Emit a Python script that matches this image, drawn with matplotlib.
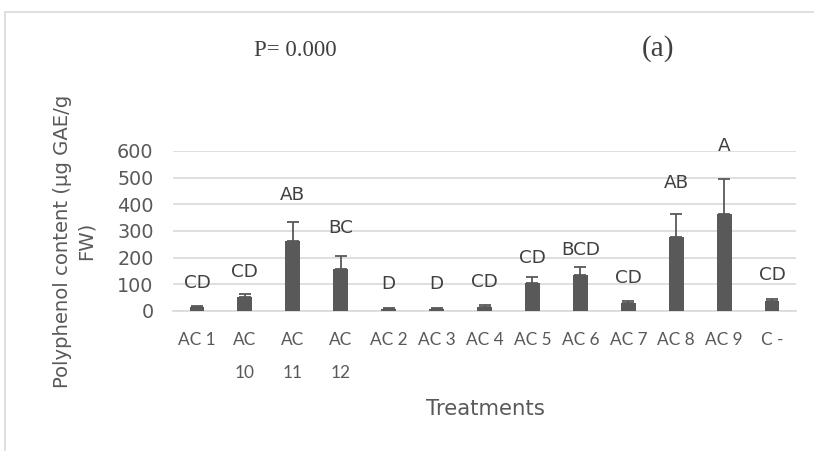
import matplotlib.pyplot as plt
from matplotlib.patches import Rectangle
import numpy as np

# treatments, means, upper error and significance groups
treatments = ["AC 1", "AC\n10", "AC\n11", "AC\n12", "AC 2", "AC 3", "AC 4",
              "AC 5", "AC 6", "AC 7", "AC 8", "AC 9", "C -"]
means = [16, 52, 262, 157, 8, 8, 15, 104, 135, 29, 277, 365, 39]
errors = [4, 13, 73, 48, 2, 2, 9, 25, 29, 8, 85, 131, 7]
groups = ["CD", "CD", "AB", "BC", "D", "D", "CD", "CD", "BCD", "CD", "AB", "A", "CD"]
group_y = [106, 146, 434, 310, 100, 100, 109, 198, 229, 125, 480, 619, 134]

bar_color = "#595959"
text_color = "#595959"
grid_color = "#d9d9d9"
font = "DejaVu Sans"

fig = plt.figure(figsize=(8.14, 4.51), dpi=100)
fig.patches.append(Rectangle((5 / 814, -0.01), 1.0, 1 - 12 / 451 + 0.01,
                             transform=fig.transFigure, fill=False,
                             edgecolor=grid_color, linewidth=1.2))

ax = fig.add_axes([173 / 814, 1 - 311 / 451, (796 - 173) / 814, 160 / 451])
x = np.arange(len(treatments))
ax.bar(x, means, width=0.31, color=bar_color, zorder=3)
ax.errorbar(x, means, yerr=[np.zeros(len(errors)), errors], fmt="none",
            ecolor=bar_color, elinewidth=1.3, capsize=4, capthick=1.3, zorder=4)

for xi, g, gy in zip(x, groups, group_y):
    ax.text(xi, gy, g, ha="center", va="center", fontsize=13.2,
            color="#404040", family=font, clip_on=False)

ax.set_xlim(-0.5, len(treatments) - 0.5)
ax.set_ylim(0, 600)
ax.set_yticks(range(0, 601, 100))
ax.set_xticks(x)
ax.set_xticklabels(treatments, fontsize=12.4, color=text_color,
                   family=["Lato", "DejaVu Sans"], linespacing=2.35, va="top")
for lbl in ax.get_yticklabels():
    lbl.set_fontsize(13.8)
    lbl.set_color(text_color)
    lbl.set_family(font)
ax.tick_params(length=0)
ax.tick_params(axis="y", pad=14)
ax.tick_params(axis="x", pad=15)
ax.grid(axis="y", color=grid_color, linewidth=1.2, zorder=0)
for side in ["top", "right", "left"]:
    ax.spines[side].set_visible(False)
ax.spines["bottom"].set_color(grid_color)
ax.spines["bottom"].set_linewidth(1.2)

fig.text(485 / 814, 1 - 409 / 451, "Treatments", ha="center", va="center",
         fontsize=15.3, color=text_color, family=font)
fig.text(74 / 814, 1 - 241 / 451, "Polyphenol content (µg GAE/g\nFW)",
         rotation=90, ha="center", va="center", fontsize=14.1,
         color=text_color, family=font, linespacing=1.3, multialignment="center")
fig.text(295 / 814, 1 - 50 / 451, "P= 0.000", ha="center", va="center",
         fontsize=16.5, color="#404040", family="Liberation Serif")
fig.text(658 / 814, 1 - 49 / 451, "(a)", ha="center", va="center",
         fontsize=21, color="#404040", family="Liberation Serif")

fig.savefig("out.png", dpi=100)
